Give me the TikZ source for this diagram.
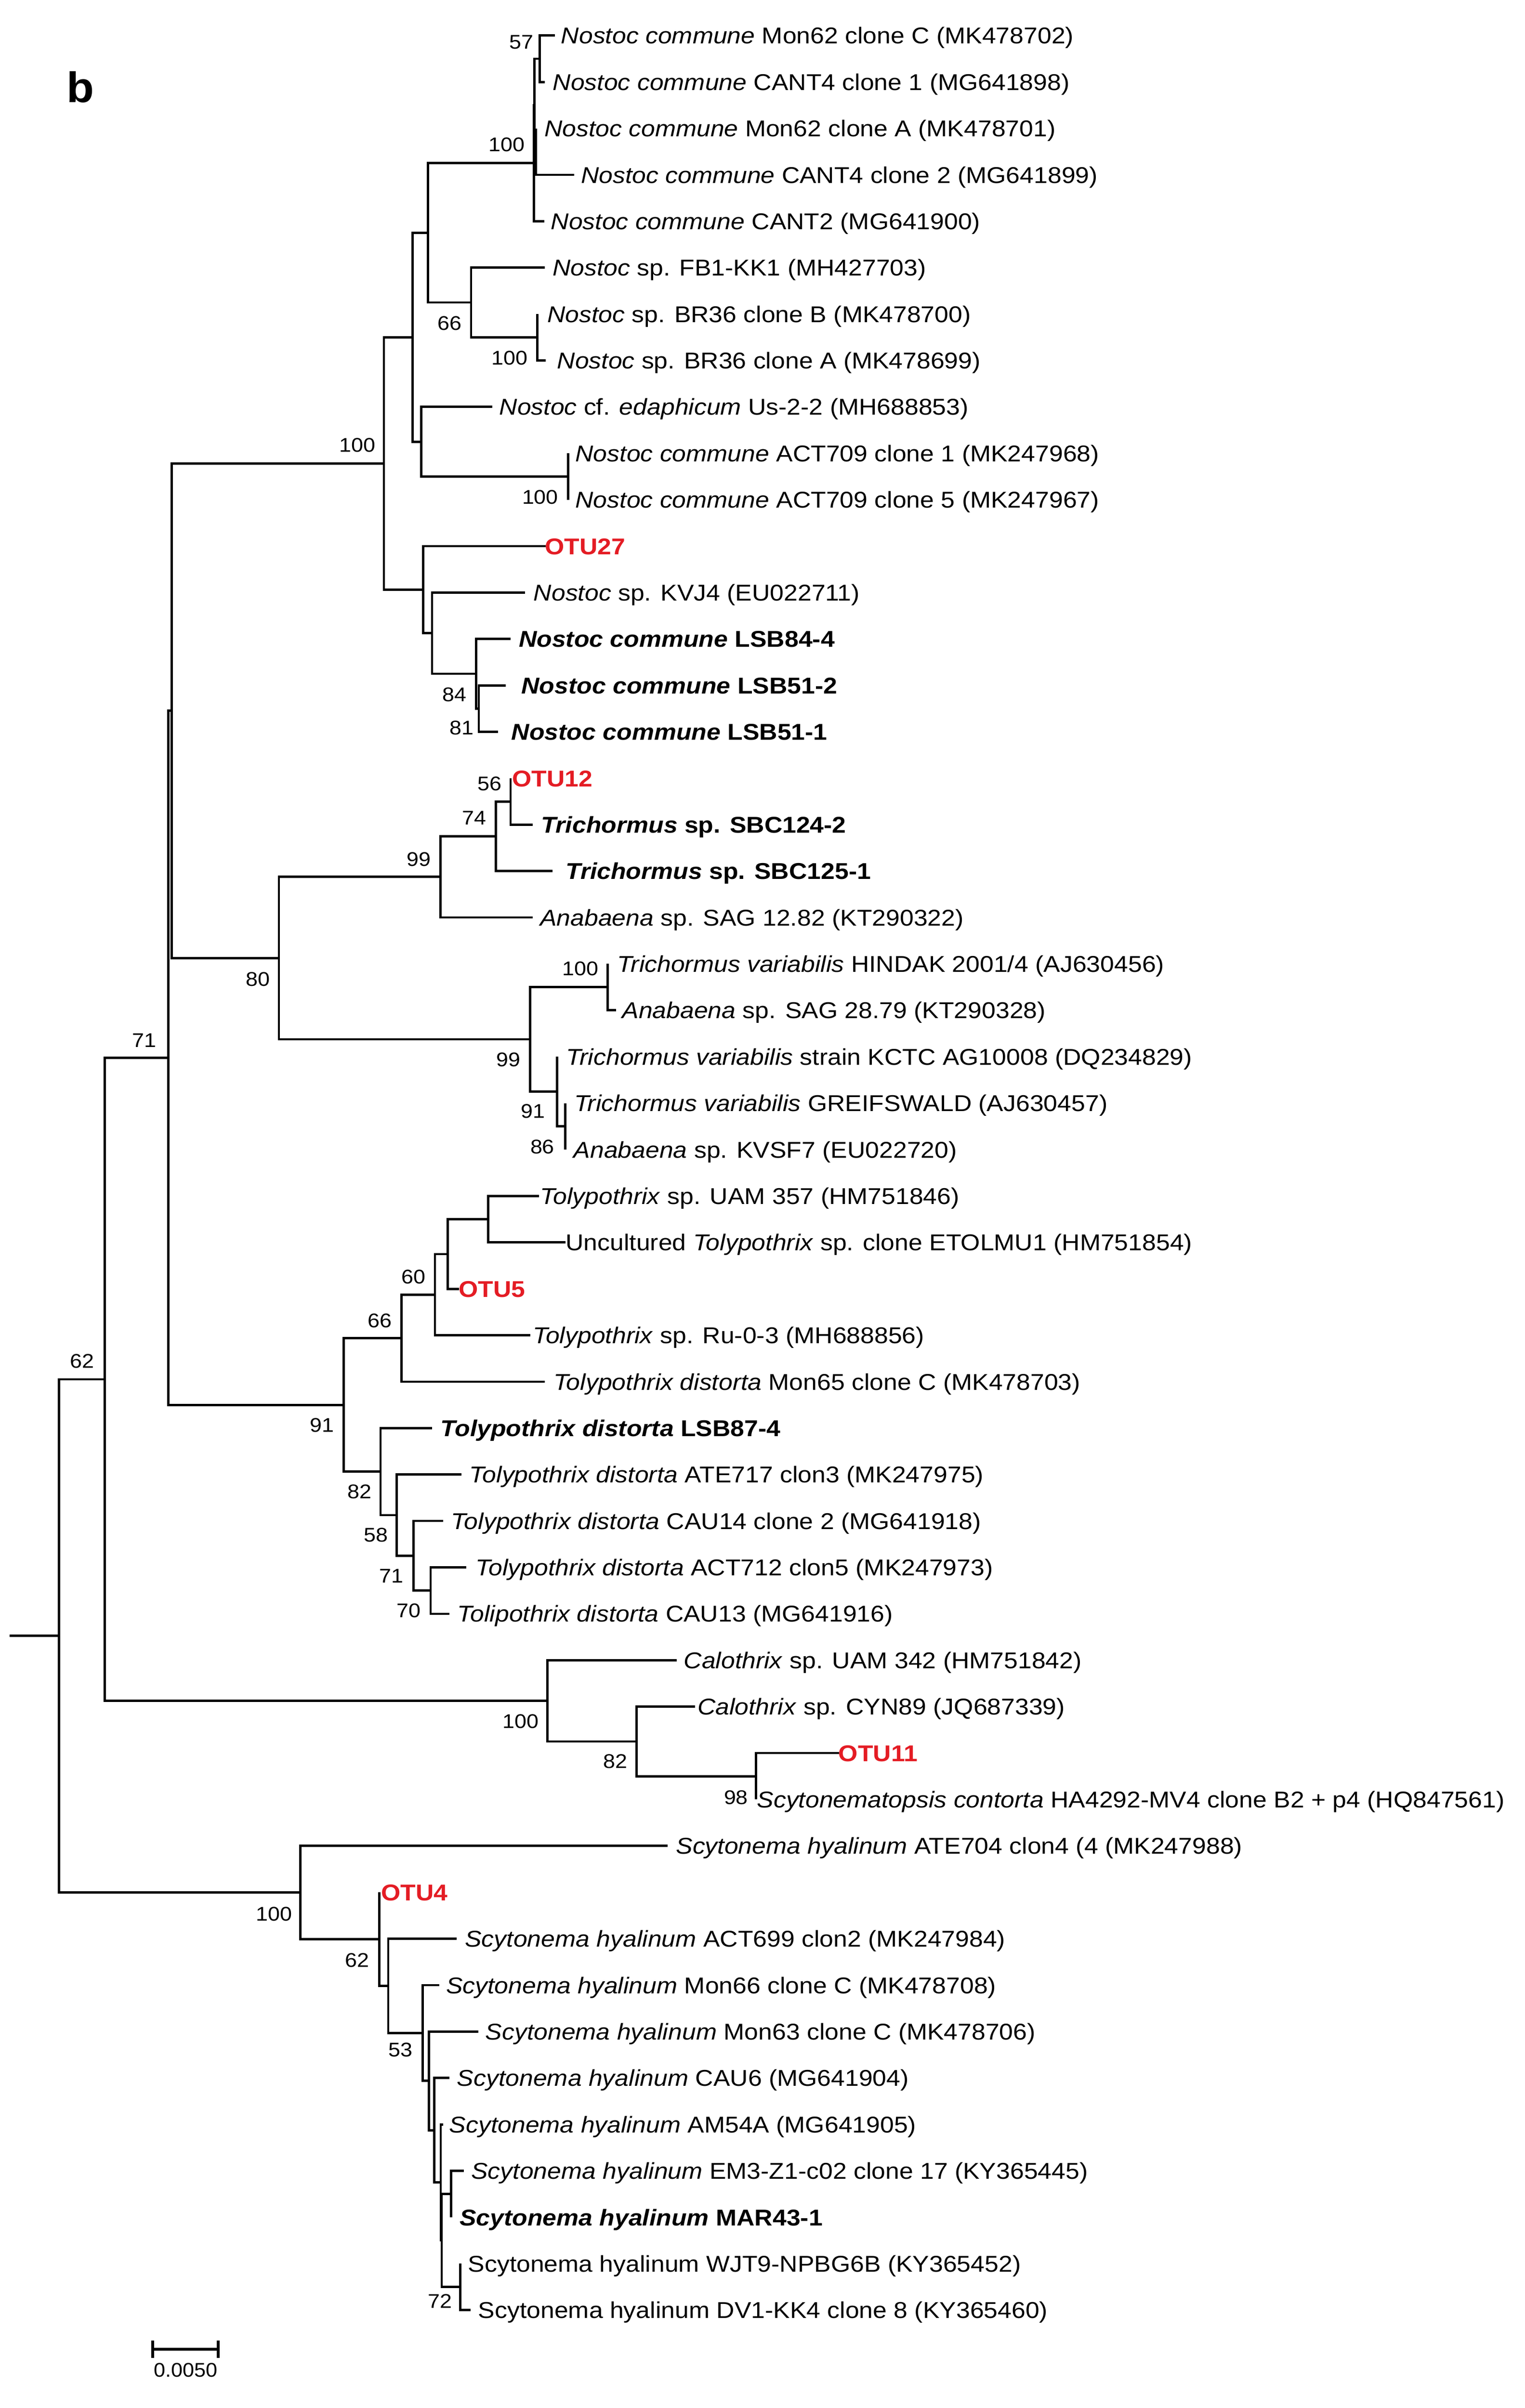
\documentclass[tikz,border=0pt]{standalone}
\usepackage{fontspec}
\setmainfont{Liberation Sans}
\usepackage{graphicx}
\definecolor{otured}{RGB}{228,28,36}
\newcommand{\sxt}[1]{\scalebox{1.09}[1]{#1}}
\newcommand{\sxn}[1]{\scalebox{1.09}[1]{#1}}
\begin{document}
\begin{tikzpicture}[x=1pt,y=-1pt,
  br/.style={line width=1.5pt},
  lbl/.style={anchor=base west, inner sep=0pt, outer sep=0pt, yshift=-5.4pt, font=\fontsize{15}{18}\selectfont},
  otu/.style={lbl, text=otured, font=\fontsize{15}{18}\selectfont\bfseries},
  bsv/.style={anchor=east, inner sep=0pt, outer sep=0pt, font=\fontsize{13}{15}\selectfont},
  scl/.style={line width=1.8pt}
]
\fill[white] (0,0) rectangle (1000,1579.6);
\useasboundingbox (0,0) rectangle (1000,1579.6);

% internal nodes
\coordinate (A3) at (351.6,99.43);
\coordinate (n57) at (353.9,38.53);
\coordinate (A2) at (350.6,68.98);
\coordinate (A1) at (350.1,107.04);
\coordinate (n100b) at (352.5,221.23);
\coordinate (C) at (309.0,198.39);
\coordinate (B) at (280.8,152.71);
\coordinate (nACT) at (372.6,312.58);
\coordinate (E) at (276.3,289.74);
\coordinate (D) at (270.5,221.22);
\coordinate (J) at (314.0,464.83);
\coordinate (I) at (312.3,441.99);
\coordinate (H) at (283.4,415.34);
\coordinate (G) at (277.6,386.80);
\coordinate (F) at (251.8,304.01);
\coordinate (n56) at (334.9,525.73);
\coordinate (n74) at (325.2,548.56);
\coordinate (n99a) at (288.8,575.20);
\coordinate (n100c) at (398.6,647.53);
\coordinate (n86) at (370.8,738.88);
\coordinate (n91b) at (365.3,716.04);
\coordinate (n99b) at (347.6,681.78);
\coordinate (n80) at (182.9,628.49);
\coordinate (K1) at (112.7,466.25);
\coordinate (P) at (320.2,799.78);
\coordinate (Q) at (293.7,822.61);
\coordinate (n60) at (285.3,849.26);
\coordinate (n66b) at (263.4,877.80);
\coordinate (n70) at (282.4,1043.38);
\coordinate (n71b) at (271.1,1020.54);
\coordinate (n58) at (260.2,993.90);
\coordinate (n82) at (249.6,965.35);
\coordinate (n91) at (225.4,921.58);
\coordinate (K2) at (110.5,693.90);
\coordinate (n98) at (495.9,1165.18);
\coordinate (n82b) at (417.6,1142.34);
\coordinate (n100d) at (359.0,1115.70);
\coordinate (n71) at (68.6,904.80);
\coordinate (nEM) at (295.9,1439.23);
\coordinate (n72) at (301.9,1500.13);
\coordinate (R4) at (289.7,1469.68);
\coordinate (R3) at (289.1,1431.61);
\coordinate (R2) at (284.7,1397.36);
\coordinate (R) at (281.3,1365.00);
\coordinate (n53) at (277.3,1333.60);
\coordinate (N1) at (254.6,1302.68);
\coordinate (n62b) at (248.9,1271.99);
\coordinate (n100e) at (197.0,1241.42);
\coordinate (n62) at (38.6,1073.11);
\coordinate (root) at (6.4,1073.11);

% leaf tips
\coordinate (l1) at (364.0,23.30);
\coordinate (l2) at (357.3,53.75);
\coordinate (l3) at (351.6,84.20);
\coordinate (l4) at (376.6,114.65);
\coordinate (l5) at (357.0,145.10);
\coordinate (l6) at (357.3,175.55);
\coordinate (l7) at (352.5,206.00);
\coordinate (l8) at (358.0,236.45);
\coordinate (l9) at (323.0,266.90);
\coordinate (l10) at (372.6,297.35);
\coordinate (l11) at (372.6,327.80);
\coordinate (l12) at (358.0,358.25);
\coordinate (l13) at (344.5,388.70);
\coordinate (l14) at (334.9,419.15);
\coordinate (l15) at (331.7,449.60);
\coordinate (l16) at (326.8,480.05);
\coordinate (l17) at (334.9,510.50);
\coordinate (l18) at (349.4,540.95);
\coordinate (l19) at (362.3,571.40);
\coordinate (l20) at (349.4,601.85);
\coordinate (l21) at (398.6,632.30);
\coordinate (l22) at (403.9,662.75);
\coordinate (l23) at (365.3,693.20);
\coordinate (l24) at (370.8,723.65);
\coordinate (l25) at (370.8,754.10);
\coordinate (l26) at (353.4,784.55);
\coordinate (l27) at (371.0,815.00);
\coordinate (l28) at (301.1,845.45);
\coordinate (l29) at (347.8,875.90);
\coordinate (l30) at (357.4,906.35);
\coordinate (l31) at (283.4,936.80);
\coordinate (l32) at (302.7,967.25);
\coordinate (l33) at (290.8,997.70);
\coordinate (l34) at (305.9,1028.15);
\coordinate (l35) at (294.6,1058.60);
\coordinate (l36) at (444.0,1089.05);
\coordinate (l37) at (456.0,1119.50);
\coordinate (l38) at (550.4,1149.95);
\coordinate (l39) at (495.9,1180.40);
\coordinate (l40) at (437.9,1210.85);
\coordinate (l41) at (248.9,1241.30);
\coordinate (l42) at (299.5,1271.75);
\coordinate (l43) at (288.1,1302.20);
\coordinate (l44) at (313.6,1332.65);
\coordinate (l45) at (294.8,1363.10);
\coordinate (l46) at (290.8,1393.55);
\coordinate (l47) at (304.3,1424.00);
\coordinate (l48) at (295.9,1454.45);
\coordinate (l49) at (301.9,1484.90);
\coordinate (l50) at (308.8,1515.35);

% branches
\foreach \p/\c in {A3/l3,A3/l4,n57/l1,n57/l2,A2/n57,A2/A3,A1/A2,A1/l5,
  n100b/l7,n100b/l8,C/l6,C/n100b,B/A1,B/C,nACT/l10,nACT/l11,E/l9,E/nACT,
  D/B,D/E,J/l15,J/l16,I/l14,I/J,H/l13,H/I,G/l12,G/H,F/D,F/G,
  n56/l17,n56/l18,n74/n56,n74/l19,n99a/n74,n99a/l20,n100c/l21,n100c/l22,
  n86/l24,n86/l25,n91b/l23,n91b/n86,n99b/n100c,n99b/n91b,n80/n99a,n80/n99b,
  K1/F,K1/n80,P/l26,P/l27,Q/P,Q/l28,n60/Q,n60/l29,n66b/n60,n66b/l30,
  n70/l34,n70/l35,n71b/l33,n71b/n70,n58/l32,n58/n71b,n82/l31,n82/n58,
  n91/n66b,n91/n82,K2/K1,K2/n91,n98/l38,n98/l39,n82b/l37,n82b/n98,
  n100d/l36,n100d/n82b,n71/K2,n71/n100d,nEM/l47,nEM/l48,n72/l49,n72/l50,
  R4/nEM,R4/n72,R3/l46,R3/R4,R2/l45,R2/R3,R/l44,R/R2,n53/l43,n53/R,
  N1/l42,N1/n53,n62b/l41,n62b/N1,n100e/l40,n100e/n62b,n62/n71,n62/n100e}
  \draw[br] (\p) |- (\c);
\draw[br] (root) -- (n62);

% leaf labels
\node[lbl] (t1) at (368,23.30) {\sxt{\textit{Nostoc commune} Mon62 clone C (MK478702)}};
\node[lbl] (t2) at (362.6,53.75) {\sxt{\textit{Nostoc commune} CANT4 clone 1 (MG641898)}};
\node[lbl] (t3) at (357,84.20) {\sxt{\textit{Nostoc commune} Mon62 clone A (MK478701)}};
\node[lbl] (t4) at (381,114.65) {\sxt{\textit{Nostoc commune} CANT4 clone 2 (MG641899)}};
\node[lbl] (t5) at (361.3,145.10) {\sxt{\textit{Nostoc commune} CANT2 (MG641900)}};
\node[lbl] (t6) at (362.4,175.55) {\sxt{\textit{Nostoc} sp. FB1-KK1 (MH427703)}};
\node[lbl] (t7) at (359,206.00) {\sxt{\textit{Nostoc} sp. BR36 clone B (MK478700)}};
\node[lbl] (t8) at (365.4,236.45) {\sxt{\textit{Nostoc} sp. BR36 clone A (MK478699)}};
\node[lbl] (t9) at (327.5,266.90) {\sxt{\textit{Nostoc} cf. \textit{edaphicum} Us-2-2 (MH688853)}};
\node[lbl] (t10) at (377.4,297.35) {\sxt{\textit{Nostoc commune} ACT709 clone 1 (MK247968)}};
\node[lbl] (t11) at (377.4,327.80) {\sxt{\textit{Nostoc commune} ACT709 clone 5 (MK247967)}};
\node[otu] (t12) at (357.5,358.25) {\sxt{OTU27}};
\node[lbl] (t13) at (350,388.70) {\sxt{\textit{Nostoc} sp. KVJ4 (EU022711)}};
\node[lbl] (t14) at (340.3,419.15) {\sxt{\textbf{\textit{Nostoc commune} LSB84-4}}};
\node[lbl] (t15) at (342,449.60) {\sxt{\textbf{\textit{Nostoc commune} LSB51-2}}};
\node[lbl] (t16) at (335.5,480.05) {\sxt{\textbf{\textit{Nostoc commune} LSB51-1}}};
\node[otu] (t17) at (336,510.50) {\sxt{OTU12}};
\node[lbl] (t18) at (354.8,540.95) {\sxt{\textbf{\textit{Trichormus} sp. SBC124-2}}};
\node[lbl] (t19) at (371,571.40) {\sxt{\textbf{\textit{Trichormus} sp. SBC125-1}}};
\node[lbl] (t20) at (354.2,601.85) {\sxt{\textit{Anabaena} sp. SAG 12.82 (KT290322)}};
\node[lbl] (t21) at (405,632.30) {\sxt{\textit{Trichormus variabilis} HINDAK 2001/4 (AJ630456)}};
\node[lbl] (t22) at (408,662.75) {\sxt{\textit{Anabaena} sp. SAG 28.79 (KT290328)}};
\node[lbl] (t23) at (371.5,693.20) {\sxt{\textit{Trichormus variabilis} strain KCTC AG10008 (DQ234829)}};
\node[lbl] (t24) at (376.6,723.65) {\sxt{\textit{Trichormus variabilis} GREIFSWALD (AJ630457)}};
\node[lbl] (t25) at (376.2,754.10) {\sxt{\textit{Anabaena} sp. KVSF7 (EU022720)}};
\node[lbl] (t26) at (354.3,784.55) {\sxt{\textit{Tolypothrix} sp. UAM 357 (HM751846)}};
\node[lbl] (t27) at (371,815.00) {\sxt{Uncultured \textit{Tolypothrix} sp. clone ETOLMU1 (HM751854)}};
\node[otu] (t28) at (300.8,845.45) {\sxt{OTU5}};
\node[lbl] (t29) at (349.5,875.90) {\sxt{\textit{Tolypothrix} sp. Ru-0-3 (MH688856)}};
\node[lbl] (t30) at (363,906.35) {\sxt{\textit{Tolypothrix distorta} Mon65 clone C (MK478703)}};
\node[lbl] (t31) at (289,936.80) {\sxt{\textbf{\textit{Tolypothrix distorta} LSB87-4}}};
\node[lbl] (t32) at (308,967.25) {\sxt{\textit{Tolypothrix distorta} ATE717 clon3 (MK247975)}};
\node[lbl] (t33) at (296,997.70) {\sxt{\textit{Tolypothrix distorta} CAU14 clone 2 (MG641918)}};
\node[lbl] (t34) at (312,1028.15) {\sxt{\textit{Tolypothrix distorta} ACT712 clon5 (MK247973)}};
\node[lbl] (t35) at (300,1058.60) {\sxt{\textit{Tolipothrix distorta} CAU13 (MG641916)}};
\node[lbl] (t36) at (448.5,1089.05) {\sxt{\textit{Calothrix} sp. UAM 342 (HM751842)}};
\node[lbl] (t37) at (457.5,1119.50) {\sxt{\textit{Calothrix} sp. CYN89 (JQ687339)}};
\node[otu] (t38) at (550,1149.95) {\sxt{OTU11}};
\node[lbl] (t39) at (496.5,1180.40) {\sxt{\textit{Scytonematopsis contorta} HA4292-MV4 clone B2 + p4 (HQ847561)}};
\node[lbl] (t40) at (443.4,1210.85) {\sxt{\textit{Scytonema hyalinum} ATE704 clon4 (4 (MK247988)}};
\node[otu] (t41) at (250,1241.30) {\sxt{OTU4}};
\node[lbl] (t42) at (305,1271.75) {\sxt{\textit{Scytonema hyalinum} ACT699 clon2 (MK247984)}};
\node[lbl] (t43) at (292.6,1302.20) {\sxt{\textit{Scytonema hyalinum} Mon66 clone C (MK478708)}};
\node[lbl] (t44) at (318.4,1332.65) {\sxt{\textit{Scytonema hyalinum} Mon63 clone C (MK478706)}};
\node[lbl] (t45) at (299.8,1363.10) {\sxt{\textit{Scytonema hyalinum} CAU6 (MG641904)}};
\node[lbl] (t46) at (294.7,1393.55) {\sxt{\textit{Scytonema hyalinum} AM54A (MG641905)}};
\node[lbl] (t47) at (309.1,1424.00) {\sxt{\textit{Scytonema hyalinum} EM3-Z1-c02 clone 17 (KY365445)}};
\node[lbl] (t48) at (301.5,1454.45) {\sxt{\textbf{\textit{Scytonema hyalinum} MAR43-1}}};
\node[lbl] (t49) at (307,1484.90) {\sxt{Scytonema hyalinum WJT9-NPBG6B (KY365452)}};
\node[lbl] (t50) at (313.7,1515.35) {\sxt{Scytonema hyalinum DV1-KK4 clone 8 (KY365460)}};

% bootstrap values
\node[bsv] (s1) at (349.8,27.8) {\sxn{57}};
\node[bsv] (s2) at (344.1,94.9) {\sxn{100}};
\node[bsv] (s3) at (302.7,212.0) {\sxn{66}};
\node[bsv] (s4) at (346.1,234.8) {\sxn{100}};
\node[bsv] (s5) at (246.3,292.0) {\sxn{100}};
\node[bsv] (s6) at (366.1,326.0) {\sxn{100}};
\node[bsv] (s7) at (305.9,455.6) {\sxn{84}};
\node[bsv] (s8) at (310.7,477.6) {\sxn{81}};
\node[bsv] (s9) at (329.1,514.0) {\sxn{56}};
\node[bsv] (s10) at (318.8,536.6) {\sxn{74}};
\node[bsv] (s11) at (282.7,563.7) {\sxn{99}};
\node[bsv] (s12) at (177.1,642.5) {\sxn{80}};
\node[bsv] (s13) at (392.5,635.5) {\sxn{100}};
\node[bsv] (s14) at (102.4,682.4) {\sxn{71}};
\node[bsv] (s15) at (341.2,695.1) {\sxn{99}};
\node[bsv] (s16) at (357.4,729.0) {\sxn{91}};
\node[bsv] (s17) at (363.6,752.4) {\sxn{86}};
\node[bsv] (s18) at (279.2,837.7) {\sxn{60}};
\node[bsv] (s19) at (257.0,866.4) {\sxn{66}};
\node[bsv] (s20) at (61.8,893.0) {\sxn{62}};
\node[bsv] (s21) at (219.0,934.8) {\sxn{91}};
\node[bsv] (s22) at (243.8,978.6) {\sxn{82}};
\node[bsv] (s23) at (254.4,1007.0) {\sxn{58}};
\node[bsv] (s24) at (264.7,1033.7) {\sxn{71}};
\node[bsv] (s25) at (276.0,1056.5) {\sxn{70}};
\node[bsv] (s26) at (353.2,1129.1) {\sxn{100}};
\node[bsv] (s27) at (411.5,1155.4) {\sxn{82}};
\node[bsv] (s28) at (490.6,1179.0) {\sxn{98}};
\node[bsv] (s29) at (191.6,1255.4) {\sxn{100}};
\node[bsv] (s30) at (242.1,1285.9) {\sxn{62}};
\node[bsv] (s31) at (270.7,1344.5) {\sxn{53}};
\node[bsv] (s32) at (296.5,1509.6) {\sxn{72}};

% panel letter
\node[anchor=base west, inner sep=0pt, font=\fontsize{28}{32}\selectfont\bfseries] (panel) at (43.5,67) {\scalebox{1.05}[1]{b}};

% scale bar
\coordinate (sbL) at (100.2,1541);
\coordinate (sbR) at (143.2,1541);
\draw[scl] (sbL) -- (sbR);
\draw[scl] ([yshift=5.7pt]sbL) -- ([yshift=-5.7pt]sbL);
\draw[scl] ([yshift=5.7pt]sbR) -- ([yshift=-5.7pt]sbR);
\node[anchor=north, inner sep=0pt, font=\fontsize{13}{15}\selectfont] (sblab) at (121.9,1550) {\scalebox{1.05}[1]{0.0050}};
\end{tikzpicture}
\end{document}
